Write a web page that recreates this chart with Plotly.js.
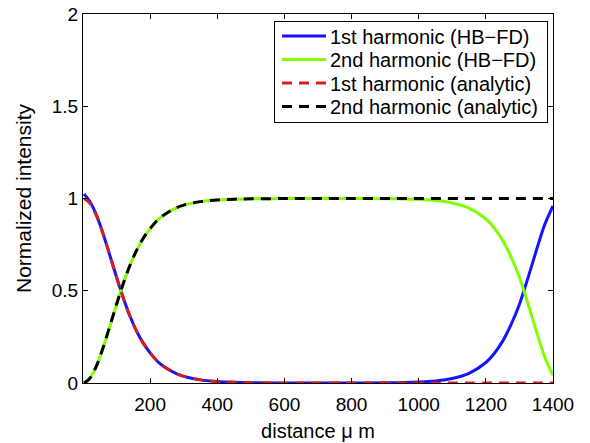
<!DOCTYPE html>
<html>
<head>
<meta charset="utf-8">
<script src="https://cdn.plot.ly/plotly-3.0.1.min.js"></script>
<style>html,body{margin:0;padding:0;background:#fff;}#chart{width:590px;height:443px;}</style>
</head>
<body>
<div id="chart"></div>
<script>
// distance (µm)
const distance = [3, 20, 40, 60, 80, 100, 120, 140, 160, 180, 200, 225, 250, 275, 300, 350, 400, 450, 500, 600, 700, 800, 900, 950, 1000, 1050, 1100, 1150, 1200, 1225, 1250, 1275, 1300, 1325, 1350, 1375, 1400];

const firstHBFD = [1.025, 0.985, 0.91, 0.808, 0.692, 0.573, 0.461, 0.362, 0.280, 0.2145, 0.163, 0.112, 0.078, 0.053, 0.036, 0.017, 0.008, 0.0035, 0.0016, 0.0004, 0.0003, 0.0006, 0.001, 0.0024, 0.005, 0.011, 0.024, 0.052, 0.111, 0.16, 0.227, 0.316, 0.427, 0.567, 0.716, 0.857, 0.96];

const secondHBFD = [0.0, 0.024, 0.092, 0.192, 0.308, 0.427, 0.539, 0.638, 0.720, 0.786, 0.837, 0.888, 0.922, 0.947, 0.964, 0.983, 0.992, 0.9965, 0.998, 0.9996, 0.9997, 0.9994, 0.999, 0.9976, 0.995, 0.989, 0.976, 0.948, 0.889, 0.84, 0.773, 0.684, 0.573, 0.433, 0.284, 0.143, 0.04];

const firstAnalytic = [1.0, 0.976, 0.908, 0.808, 0.692, 0.573, 0.461, 0.362, 0.280, 0.2145, 0.163, 0.112, 0.078, 0.053, 0.036, 0.017, 0.008, 0.0035, 0.0016, 0.0003, 0, 0, 0, 0, 0, 0, 0, 0, 0, 0, 0, 0, 0, 0, 0, 0, 0];

const secondAnalytic = [0.0, 0.024, 0.092, 0.192, 0.308, 0.427, 0.539, 0.638, 0.720, 0.786, 0.837, 0.888, 0.922, 0.947, 0.964, 0.983, 0.992, 0.9965, 0.998, 0.9997, 1, 1, 1, 1, 1, 1, 1, 1, 1, 1, 1, 1, 1, 1, 1, 1, 1];

const seriesNames = ['1st harmonic (HB\u2212FD)', '2nd harmonic (HB\u2212FD)', '1st harmonic (analytic)', '2nd harmonic (analytic)'];
const xTicks = [200, 400, 600, 800, 1000, 1200, 1400];
const yTicks = [0, 0.5, 1, 1.5, 2];
const yTickText = ['0', '0.5', '1', '1.5', '2'];

const FONT = 'Liberation Sans, Arial, sans-serif';

const traces = [
  {x: distance, y: firstHBFD, name: seriesNames[0], mode: 'lines', line: {color: 'rgb(20,20,255)', width: 3, shape: 'spline'}},
  {x: distance, y: secondHBFD, name: seriesNames[1], mode: 'lines', line: {color: 'rgb(128,255,0)', width: 3, shape: 'spline'}},
  {x: distance, y: firstAnalytic, name: seriesNames[2], mode: 'lines', line: {color: 'rgb(215,30,30)', width: 3, dash: '10px,7px', shape: 'spline'}},
  {x: distance, y: secondAnalytic, name: seriesNames[3], mode: 'lines', line: {color: 'black', width: 3, dash: '10px,7px', shape: 'spline'}}
];

const layout = {
  width: 590, height: 443,
  margin: {l: 83, r: 37, t: 14, b: 60},
  paper_bgcolor: 'white', plot_bgcolor: 'white',
  font: {family: FONT, size: 19, color: 'black'},
  showlegend: true,
  legend: {
    x: 0.406, y: 0.981, xanchor: 'left', yanchor: 'top',
    bgcolor: 'white', bordercolor: 'black', borderwidth: 1,
    font: {family: FONT, size: 20, color: 'black'},
    tracegroupgap: 0
  },
  xaxis: {
    range: [0, 1400], tickvals: xTicks, ticktext: xTicks.map(String),
    ticks: 'inside', ticklen: 5, tickcolor: 'black', tickwidth: 1,
    showline: true, linecolor: 'black', linewidth: 1, mirror: 'ticks',
    showgrid: false, zeroline: false, ticklabelstandoff: 4,
    tickfont: {family: FONT, size: 19, color: 'black'},
    title: {text: 'distance \u03bc m', font: {family: FONT, size: 20, color: 'black'}, standoff: 10}
  },
  yaxis: {
    range: [0, 2], tickvals: yTicks, ticktext: yTickText,
    ticks: 'inside', ticklen: 5, tickcolor: 'black', tickwidth: 1,
    showline: true, linecolor: 'black', linewidth: 1, mirror: 'ticks',
    showgrid: false, zeroline: false,
    tickfont: {family: FONT, size: 19, color: 'black'},
    title: {text: 'Normalized intensity', font: {family: FONT, size: 21, color: 'black'}, standoff: 14}
  }
};

function parseTranslate(s) {
  const m = /translate\(\s*([-\d.e]+)[ ,]*([-\d.e]*)\s*\)/.exec(s || '');
  return m ? {x: parseFloat(m[1]) || 0, y: parseFloat(m[2]) || 0} : {x: 0, y: 0};
}

Plotly.newPlot('chart', traces, layout, {displayModeBar: false, staticPlot: true}).then(function (gd) {
  // tighten legend to the reference's compact MATLAB-style layout
  const leg = gd.querySelector('.legend');
  if (!leg) return;
  const host = gd.getBoundingClientRect();
  const sb = leg.querySelector('.scrollbox');
  if (sb) sb.removeAttribute('clip-path');
  const rowY = [36, 59.5, 83, 106.5];
  const items = leg.querySelectorAll('.traces');
  items.forEach(function (it, i) {
    const path = it.querySelector('path.js-line');
    const txt = it.querySelector('text.legendtext');
    if (!path || !txt) return;
    const tr = parseTranslate(it.getAttribute('transform'));
    const pr = path.getBoundingClientRect();
    const tb = txt.getBoundingClientRect();
    const dy = rowY[i] - (pr.top - host.top + pr.height / 2);
    const dx = 330 - (tb.left - host.left);
    it.setAttribute('transform', 'translate(' + (tr.x + dx) + ',' + (tr.y + dy) + ')');
    const curStart = pr.left - host.left + dx;
    const localStart = 5 + (282 - curStart);
    path.setAttribute('d', 'M' + localStart + ',0h44');
  });
  const bg = leg.querySelector('rect.bg');
  if (bg) {
    const br = bg.getBoundingClientRect();
    const bx = parseFloat(bg.getAttribute('x') || 0), by = parseFloat(bg.getAttribute('y') || 0);
    bg.setAttribute('x', bx + (274.5 - (br.left - host.left)));
    bg.setAttribute('y', by + (21.5 - (br.top - host.top)));
    bg.setAttribute('width', 273);
    bg.setAttribute('height', 101);
  }
});
</script>
</body>
</html>
